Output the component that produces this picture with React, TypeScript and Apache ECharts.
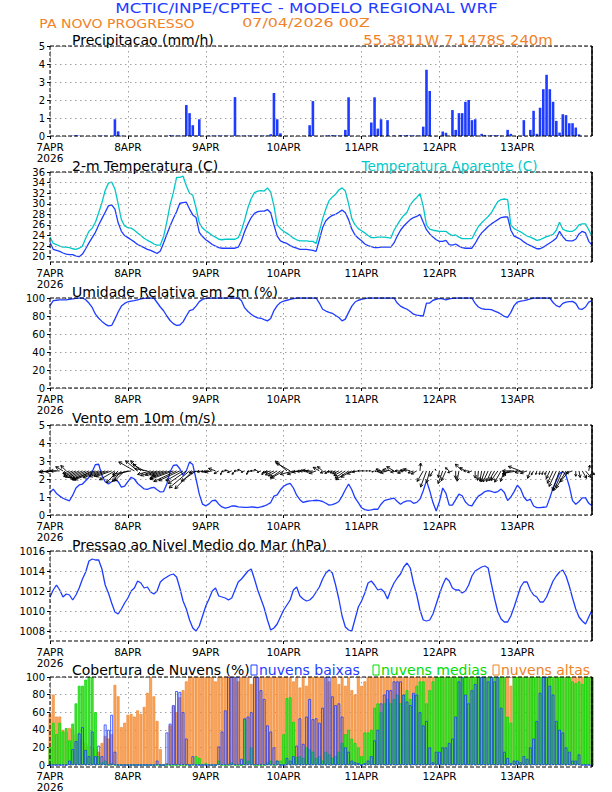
import React, { useEffect, useRef } from "react";
import * as echarts from "echarts";

// ---------------- DATA (hourly, 7APR 00Z .. 13APR 23Z) ----------------
const DAY_LABELS = ["7APR\n2026", "8APR", "9APR", "10APR", "11APR", "12APR", "13APR"];
const HOURS = Array.from({ length: 168 }, (_, i) => i);

const PRECIP = [
  0, 0, 0, 0, 0, 0, 0, 0.02, 0.05, 0.02, 0, 0,
  0, 0, 0, 0.02, 0.02, 0.02, 0, 0, 0.93, 0.26, 0.02, 0,
  0, 0, 0, 0, 0, 0, 0, 0, 0, 0, 0, 0,
  0, 0.05, 0.02, 0.02, 0.02, 0.02, 1.72, 1.27, 0.6, 0.02, 0.93, 0,
  0, 0.02, 0.02, 0.02, 0.02, 0.02, 0.02, 0.02, 0, 2.16, 0.02, 0.02,
  0.02, 0.02, 0.02, 0.02, 0.02, 0.02, 0.02, 0.02, 0.1, 2.39, 0.93, 0.15,
  0, 0, 0, 0, 0, 0, 0, 0, 0.6, 1.94, 0, 0,
  0, 0.03, 0.03, 0.05, 0.03, 0.02, 0.02, 0.34, 2.15, 0, 0, 0,
  0, 0, 0, 0.75, 2.15, 0.41, 0.93, 0, 0.88, 0, 0.03, 0,
  0.05, 0.03, 0.05, 0.03, 0.03, 0.02, 0.03, 0.52, 3.68, 2.5, 0, 0,
  0, 0.25, 0.18, 0, 1.44, 0.34, 1.27, 1.27, 1.9, 2.0, 0.88, 0.93,
  0, 0.12, 0.06, 0.02, 0.04, 0.04, 0.04, 0.02, 0, 0.34, 0.12, 0,
  0, 0, 0.88, 0, 0.34, 1.4, 0.12, 1.57, 2.6, 3.4, 2.6, 1.9,
  0.84, 0.19, 1.21, 1.16, 0.71, 0.71, 0.47, 0.09, 0, 0, 0, 0,
];

const TEMP = [
  22.7, 21.4, 21.2, 21.0, 20.7, 20.5, 20.4, 20.4, 20.1, 20.0, 20.5, 21.5,
  22.6, 23.6, 24.6, 26.0, 27.2, 28.4, 29.6, 29.8, 29.0, 26.4, 24.8, 24.0,
  23.6, 23.2, 22.8, 22.3, 22.0, 21.7, 21.4, 21.2, 20.9, 20.6, 21.1, 22.6,
  24.2, 25.8, 27.2, 28.5, 30.1, 30.2, 30.3, 29.0, 27.9, 27.4, 24.6, 23.8,
  23.2, 22.8, 22.3, 22.0, 21.7, 21.6, 21.6, 21.6, 21.6, 21.6, 21.8, 23.0,
  24.8, 26.2, 27.4, 28.2, 28.5, 28.6, 28.6, 28.9, 28.3, 26.0, 23.9, 23.0,
  22.7, 22.5, 22.1, 21.8, 21.6, 21.4, 21.4, 21.4, 21.3, 21.2, 21.0, 23.2,
  25.5, 26.8, 27.4, 27.8, 28.0, 28.4, 28.8, 28.3, 27.0, 25.2, 24.1, 23.5,
  23.0, 22.4, 22.1, 21.9, 21.7, 21.7, 21.8, 21.8, 21.8, 21.8, 22.6, 23.9,
  25.0, 25.8, 26.4, 27.0, 27.4, 27.6, 28.0, 26.5, 25.1, 24.3, 23.7, 23.2,
  22.9, 22.9, 23.1, 22.3, 22.2, 22.4, 22.0, 21.7, 21.6, 21.6, 21.6, 22.5,
  23.6, 24.5, 25.1, 25.7, 26.2, 26.6, 27.0, 27.4, 27.5, 27.5, 25.0, 23.9,
  23.6, 23.3, 22.8, 22.4, 22.1, 21.8, 21.5, 21.5, 21.8, 22.2, 22.6, 23.0,
  23.5, 24.8, 23.8, 23.1, 23.0, 23.0, 23.3, 24.3, 24.8, 24.5, 22.9, 22.2,
];

const TEMP_APP = [
  23.7, 22.5, 22.3, 22.0, 21.8, 21.8, 21.7, 21.5, 21.4, 21.6, 22.0, 23.5,
  24.8, 25.4, 26.5, 28.3, 30.2, 32.5, 33.9, 34.1, 32.8, 30.0, 27.0, 25.8,
  25.5, 25.4, 25.0, 24.5, 24.0, 23.5, 23.1, 22.8, 22.4, 22.2, 22.2, 23.8,
  26.6, 29.8, 32.1, 35.0, 35.0, 35.2, 33.4, 32.0, 31.6, 29.2, 26.4, 25.4,
  24.9, 24.5, 24.0, 23.7, 23.3, 23.2, 23.3, 23.3, 23.3, 23.3, 23.6, 25.0,
  27.0, 29.3, 31.0, 32.1, 32.4, 32.5, 32.4, 33.0, 32.2, 29.6, 26.0, 25.3,
  24.8, 24.4, 24.0, 23.5, 23.2, 23.0, 23.0, 23.0, 22.9, 22.9, 22.5, 24.8,
  27.2, 29.0, 30.6, 31.3, 31.8, 32.6, 33.0, 32.4, 30.0, 27.2, 26.0, 25.3,
  24.9, 24.5, 24.0, 23.6, 23.6, 23.7, 23.7, 23.7, 23.6, 23.5, 25.0, 26.0,
  27.0, 27.8, 28.4, 29.8, 30.6, 31.2, 31.9, 29.5, 26.0, 25.2, 25.0, 24.9,
  24.8, 24.8, 24.8, 24.3, 24.0, 24.1, 23.7, 23.4, 23.4, 23.4, 23.4, 24.6,
  25.7, 26.4, 27.0, 27.6, 28.3, 29.4, 30.4, 30.8, 30.9, 30.8, 26.0, 25.3,
  25.0, 24.7, 24.3, 23.9, 23.7, 23.4, 23.1, 23.2, 23.5, 23.8, 24.0, 24.2,
  25.0, 26.5, 25.2, 24.9, 24.8, 24.8, 25.2, 26.0, 26.2, 26.2, 25.1, 23.8,
];

const RH = [
  91.4, 97, 97.5, 98, 98, 98, 98.5, 99, 99.5, 100, 100, 98,
  94.4, 89.5, 82, 77.5, 74, 71, 69, 69.5, 76.5, 84.5, 91, 94,
  95.8, 96.5, 97, 98, 99, 99.5, 100, 100, 100, 95, 90, 85.8,
  80, 75, 71.5, 69.5, 70, 73.5, 80, 86, 87, 91, 96, 98.5,
  99.5, 100, 100, 100, 100, 100, 100, 100, 100, 100, 100, 97,
  89, 85, 82, 79.5, 78, 77.5, 76, 74.6, 77.2, 86, 91.5, 95,
  96.5, 97.5, 98.5, 99.3, 100, 100, 100, 100, 100, 100, 100, 94.4,
  87.5, 85.5, 84, 83, 80.5, 78.4, 74.6, 76.5, 84, 91, 95.5, 97.5,
  98.5, 99.3, 100, 100, 100, 100, 100, 100, 100, 100, 100, 94.4,
  91, 89, 87.5, 85, 82, 81, 80.5, 80, 94.4, 94.4, 97.5, 98.5,
  99.6, 99, 98, 99, 99.6, 100, 100, 100, 100, 100, 100, 94,
  90, 88.2, 87.5, 87.3, 87, 85.5, 84, 82, 79.5, 78.4, 84, 91.5,
  95.5, 96.5, 97, 98, 99, 100, 100, 100, 100, 100, 100, 95,
  91.5, 90, 94, 95.5, 96, 96.3, 94, 88, 87.5, 90, 95.5, 97,
];

const WIND_SPD = [
  1.25, 1.44, 1.2, 1.05, 0.93, 0.85, 0.79, 1.1, 1.5, 1.67, 1.72, 1.9,
  2.1, 2.4, 2.8, 2.82, 2.2, 1.85, 1.72, 1.85, 1.98, 1.85, 1.55, 1.6,
  1.85, 2.1, 2.0, 1.75, 1.6, 1.45, 1.42, 1.5, 1.54, 1.4, 1.28, 1.3,
  1.72, 2.4, 2.75, 2.79, 2.57, 2.2, 2.45, 2.95, 2.8, 2.0, 1.16, 0.6,
  0.51, 0.62, 0.8, 0.82, 0.6, 0.45, 0.38, 0.42, 0.5, 0.5, 0.45, 0.44,
  0.42, 0.42, 0.45, 0.43, 0.41, 0.45, 0.5, 0.58, 0.69, 1.05, 1.12, 1.4,
  1.6, 1.7, 1.76, 1.5, 1.1, 0.85, 0.7, 0.75, 0.79, 0.8, 0.82, 0.8,
  0.75, 0.65, 0.55, 0.58, 0.64, 0.75, 1.05, 1.4, 1.72, 1.4, 0.95, 0.69,
  0.4, 0.3, 0.26, 0.28, 0.32, 0.32, 0.6, 0.8, 0.85, 0.9, 0.94, 0.75,
  0.6, 0.72, 0.78, 0.79, 0.65, 0.7, 0.88, 1.35, 1.91, 1.35, 0.69, 0.22,
  0.75, 1.5, 1.2, 0.55, 0.55, 0.85, 1.16, 1.07, 0.72, 0.55, 0.51, 0.8,
  1.05, 1.16, 1.3, 1.35, 1.31, 1.25, 1.3, 1.44, 1.25, 0.8, 1.0, 1.3,
  1.65, 1.45, 1.0, 0.79, 0.88, 0.5, 0.41, 0.41, 0.43, 0.45, 0.95, 1.5,
  1.9, 2.3, 2.42, 2.2, 1.6, 0.8, 0.6, 0.75, 0.95, 0.95, 0.65, 0.51,
];

// direction the wind arrow points to (degrees, counter-clockwise from east)
const WIND_DIR = [
  185, 185, 185, 180, 150, 135, 200, 205, 205, 205, 205, 205,
  205, 205, 200, 200, 200, 200, 200, 200, 210, 225, 230, 225,
  200, 190, 150, 140, 135, 150, 170, 195, 200, 200, 200, 200,
  200, 200, 200, 205, 205, 210, 215, 220, 225, 215, 190, 190,
  190, 190, 190, 160, 210, 250, 190, 170, 200, 230, 180, 160,
  200, 250, 190, 180, 160, 200, 240, 200, 195, 205, 210, 215,
  210, 140, 150, 195, 200, 190, 185, 180, 175, 185, 200, 150,
  140, 200, 210, 190, 200, 205, 210, 215, 215, 210, 200, 190,
  180, 180, 180, 180, 200, 190, 160, 185, 195, 170, 150, 190,
  180, 200, 175, 165, 200, 210, 85, 240, 250, 255, 240, 120,
  260, 250, 245, 140, 200, 270, 260, 135, 150, 180, 200, 270,
  265, 260, 250, 245, 245, 240, 235, 240, 250, 230, 200, 180,
  190, 160, 190, 200, 250, 240, 255, 260, 250, 245, 245, 245,
  245, 250, 245, 240, 230, 200, 270, 280, 300, 310, 80, 300,
];

const PRESSURE = [
  1011.4, 1012.1, 1012.6, 1012.1, 1011.4, 1011.7, 1011.6, 1011.1, 1011.6, 1012.3, 1013.2, 1013.9,
  1015.0, 1015.2, 1015.1, 1015.1, 1014.2, 1012.6, 1011.8, 1010.8, 1009.9, 1009.7, 1010.2, 1010.8,
  1011.3, 1012.0, 1012.3, 1013.0, 1012.8, 1012.3, 1012.4, 1011.9, 1011.7, 1012.0, 1012.9, 1013.2,
  1013.4, 1013.6, 1013.7, 1013.4, 1012.3, 1011.0, 1010.2, 1009.1, 1008.3, 1008.0, 1008.5, 1009.5,
  1010.5, 1011.2, 1012.0, 1012.3, 1011.5, 1011.4, 1011.3, 1011.1, 1011.3, 1012.1, 1012.9, 1013.2,
  1013.6, 1014.0, 1014.2, 1013.2, 1012.1, 1011.2, 1010.3, 1009.1, 1008.1, 1008.3, 1008.7, 1009.4,
  1010.1, 1010.6, 1011.1, 1012.1, 1012.4, 1011.5, 1011.2, 1011.0, 1011.1, 1011.4, 1011.9, 1012.4,
  1013.2, 1013.8, 1014.1, 1013.8, 1012.6, 1011.2, 1009.5, 1008.4, 1008.1, 1008.0, 1009.2, 1010.4,
  1011.0, 1011.8, 1012.8, 1013.0, 1012.6, 1012.1, 1012.2, 1011.9, 1011.2, 1012.1, 1012.8, 1013.3,
  1013.7, 1014.4, 1014.8, 1014.3, 1012.8, 1011.6, 1010.1, 1009.1, 1009.0, 1009.1, 1009.7, 1010.7,
  1011.7, 1012.6, 1013.3, 1013.0, 1012.3, 1012.1, 1012.1, 1011.8, 1012.0, 1012.6, 1013.5, 1014.0,
  1014.2, 1014.4, 1014.5, 1014.3, 1012.7, 1011.2, 1009.9, 1009.2, 1008.9, 1008.9, 1009.5, 1010.4,
  1011.4, 1012.4, 1012.9, 1012.9, 1012.1, 1011.6, 1011.4, 1010.9, 1010.9, 1011.4, 1012.2, 1013.0,
  1013.5, 1013.9, 1014.1, 1013.5, 1012.5, 1011.3, 1010.2, 1009.4, 1009.0, 1008.7, 1009.4, 1010.1,
];

const CLOUD_HIGH = [
  58, 80, 55, 55, 40, 38, 42, 40, 35, 30, 28, 25,
  22, 20, 18, 15, 25, 33, 30, 35, 91, 78, 43, 48,
  57, 58, 55, 62, 58, 66, 82, 100, 78, 50, 18, 0,
  2, 45, 67, 60, 77, 85, 95, 100, 100, 100, 100, 100,
  100, 100, 100, 95, 100, 100, 100, 100, 100, 100, 95, 100,
  100, 100, 92, 100, 100, 100, 100, 100, 100, 100, 100, 100,
  100, 100, 100, 95, 100, 88, 100, 90, 100, 100, 100, 100,
  100, 100, 95, 100, 100, 92, 100, 90, 100, 85, 80, 100,
  90, 95, 100, 100, 100, 100, 100, 100, 100, 100, 100, 100,
  100, 100, 100, 100, 100, 100, 100, 100, 100, 100, 100, 100,
  100, 100, 100, 100, 100, 100, 100, 100, 100, 100, 100, 100,
  100, 100, 100, 100, 100, 100, 100, 100, 100, 100, 90, 100,
  100, 100, 100, 100, 100, 100, 100, 100, 100, 100, 100, 100,
  100, 100, 100, 100, 100, 100, 100, 100, 100, 100, 100, 100,
];

const CLOUD_MID = [
  20, 48, 35, 48, 38, 42, 28, 47, 70, 90, 90, 97,
  100, 100, 60, 10, 3, 5, 0, 2, 0, 0, 0, 0,
  0, 0, 0, 0, 0, 0, 0, 0, 0, 0, 0, 0,
  0, 0, 0, 0, 0, 0, 0, 0, 0, 10, 8, 0,
  2, 0, 0, 0, 5, 0, 0, 0, 3, 0, 0, 0,
  52, 5, 20, 0, 0, 0, 0, 3, 5, 0, 5, 5,
  35, 76, 77, 49, 9, 10, 8, 20, 18, 15, 8, 10,
  5, 15, 12, 8, 10, 15, 25, 35, 40, 30, 25, 20,
  10, 37, 37, 40, 65, 70, 60, 70, 75, 70, 75, 80,
  70, 80, 85, 75, 80, 90, 95, 95, 70, 85, 95, 100,
  100, 100, 100, 100, 100, 100, 100, 100, 100, 100, 100, 100,
  100, 100, 100, 100, 100, 100, 100, 100, 100, 55, 48, 100,
  100, 100, 100, 100, 100, 100, 100, 100, 100, 100, 100, 100,
  100, 100, 100, 100, 100, 95, 93, 95, 92, 100, 100, 100,
];

const CLOUD_LOW = [
  0, 0, 0, 0, 0, 0, 5, 18, 27, 36, 43, 17,
  10, 38, 10, 22, 10, 46, 40, 57, 15, 0, 0, 0,
  0, 0, 0, 0, 0, 0, 0, 0, 0, 5, 0, 0,
  37, 47, 68, 84, 83, 60, 30, 0, 10, 0, 0, 0,
  0, 0, 0, 0, 21, 38, 62, 100, 100, 100, 100, 7,
  53, 55, 60, 100, 100, 85, 75, 45, 38, 20, 5, 0,
  0, 8, 5, 10, 22, 53, 24, 55, 75, 52, 53, 48,
  65, 100, 100, 78, 68, 70, 55, 20, 15, 5, 3, 2,
  0, 2, 5, 10, 28, 40, 70, 80, 85, 85, 95, 95,
  95, 80, 72, 68, 82, 80, 60, 45, 50, 20, 3, 15,
  15, 20, 20, 25, 30, 55, 95, 100, 80, 70, 85, 92,
  100, 100, 100, 95, 100, 95, 100, 65, 15, 8, 2, 5,
  5, 3, 10, 7, 20, 30, 50, 82, 100, 100, 90, 80,
  50, 40, 37, 20, 15, 5, 5, 12, 0, 0, 0, 0,
];

const TEMP_TICKS = [20, 22, 24, 26, 28, 30, 32, 34, 36];
const PRESS_TICKS = [1008, 1010, 1012, 1014, 1016];

// ---------------- STYLE ----------------
const BLUE = "#1e3cff";
const CYAN = "#00c8c8";
const GREEN = "#00dc00";
const ORANGE = "#f08228";
const GRAY = "#a0a0a0";
const FONT = "DejaVu Sans";
const PANEL_TOP = [46, 172, 298, 425, 551, 677];
const PLOT_LEFT = 50;
const PLOT_W = 542;
const PLOT_H = 90;
const ARROW_BASE = 2.45;
const ARROW_PX_PER_MS = 9;
const DOT = [1.5, 3.5];

const pairs = (arr: number[]) => HOURS.map((h, i) => [h, arr[i]]);

function buildOption() {
  const grids = PANEL_TOP.map((t) => ({ left: PLOT_LEFT, top: t, width: PLOT_W, height: PLOT_H, show: false }));

  const xAxes = PANEL_TOP.map((_, i) => ({
    type: "value",
    gridIndex: i,
    min: 0,
    max: 167,
    interval: 24,
    axisLine: { show: false },
    axisTick: { show: true, length: 3, lineStyle: { color: "#000" } },
    axisLabel: {
      color: "#000",
      fontSize: 10.5,
      fontFamily: FONT,
      margin: 5,
      lineHeight: 11,
      showMaxLabel: false,
      formatter: (v: number) => (v % 24 === 0 ? DAY_LABELS[v / 24] : ""),
    },
    splitLine: { show: true, lineStyle: { color: GRAY, type: DOT, width: 1 } },
  }));

  const yBase = (i: number, min: number, max: number, interval: number, split: boolean, extra: any = {}) => ({
    type: "value",
    gridIndex: i,
    min,
    max,
    interval,
    axisLine: { show: false },
    axisTick: { show: true, length: 3, lineStyle: { color: "#000" }, ...(extra.tick || {}) },
    axisLabel: {
      color: "#000",
      fontSize: 10,
      lineHeight: 10,
      fontFamily: FONT,
      margin: 5,
      showMinLabel: true,
      showMaxLabel: true,
      ...(extra.label || {}),
    },
    splitLine: { show: split, lineStyle: { color: GRAY, type: DOT, width: 1 } },
  });

  const evenFmt = (v: number) => (Math.round(v) % 2 === 0 ? String(Math.round(v)) : "");

  const yAxes = [
    yBase(0, 0, 5, 1, true),
    yBase(1, 19, 36, 1, false, {
      label: { customValues: TEMP_TICKS, formatter: evenFmt },
      tick: { customValues: TEMP_TICKS },
    }),
    yBase(2, 0, 100, 20, true),
    yBase(3, 0, 5, 1, true),
    yBase(4, 1007, 1016, 1, false, {
      label: { customValues: PRESS_TICKS, formatter: evenFmt },
      tick: { customValues: PRESS_TICKS },
    }),
    yBase(5, 0, 100, 20, true),
  ];

  const gridLines = (ticks: number[]) => ({
    silent: true,
    symbol: "none",
    animation: false,
    label: { show: false },
    lineStyle: { color: GRAY, type: DOT, width: 1 },
    data: ticks.map((v) => ({ yAxis: v })),
  });

  const line = (i: number, data: number[], color: string, extra: any = {}) => ({
    type: "line",
    xAxisIndex: i,
    yAxisIndex: i,
    data: pairs(data),
    showSymbol: false,
    symbol: "none",
    lineStyle: { color, width: 1.3 },
    itemStyle: { color },
    z: 3,
    ...extra,
  });

  const series: any[] = [
    {
      type: "bar",
      xAxisIndex: 0,
      yAxisIndex: 0,
      data: pairs(PRECIP),
      barWidth: 2.6,
      itemStyle: { color: BLUE },
    },
    line(1, TEMP, BLUE, { markLine: gridLines(TEMP_TICKS) }),
    line(1, TEMP_APP, CYAN),
    line(2, RH, BLUE),
    line(3, WIND_SPD, BLUE),
    {
      type: "custom",
      xAxisIndex: 3,
      yAxisIndex: 3,
      data: HOURS.map((h, i) => [h, WIND_SPD[i], WIND_DIR[i]]),
      encode: { x: 0, y: 1 },
      z: 4,
      renderItem: (params: any, api: any) => {
        const h = api.value(0);
        const spd = api.value(1);
        const dir = api.value(2);
        const p = api.coord([h, ARROW_BASE]);
        const len = spd * ARROW_PX_PER_MS;
        const a = (dir * Math.PI) / 180;
        const x2 = p[0] + Math.cos(a) * len;
        const y2 = p[1] - Math.sin(a) * len;
        const hl = Math.min(3.5, len * 0.45);
        const b1 = a + Math.PI - 0.5;
        const b2 = a + Math.PI + 0.5;
        return {
          type: "group",
          children: [
            { type: "line", shape: { x1: p[0], y1: p[1], x2, y2 }, style: { stroke: "#000", lineWidth: 0.9 } },
            {
              type: "polyline",
              shape: {
                points: [
                  [x2 + Math.cos(b1) * hl, y2 - Math.sin(b1) * hl],
                  [x2, y2],
                  [x2 + Math.cos(b2) * hl, y2 - Math.sin(b2) * hl],
                ],
              },
              style: { stroke: "#000", fill: null, lineWidth: 0.9 },
            },
          ],
        };
      },
    },
    line(4, PRESSURE, BLUE, { markLine: gridLines(PRESS_TICKS) }),
    {
      type: "bar",
      xAxisIndex: 5,
      yAxisIndex: 5,
      data: pairs(CLOUD_HIGH),
      barWidth: 2.8,
      barGap: "-100%",
      itemStyle: { color: "#f7a55c", borderColor: ORANGE, borderWidth: 0.6 },
    },
    {
      type: "bar",
      xAxisIndex: 5,
      yAxisIndex: 5,
      data: pairs(CLOUD_MID),
      barWidth: 2.8,
      barGap: "-100%",
      itemStyle: { color: "#5fd83f", borderColor: GREEN, borderWidth: 0.8 },
    },
    {
      type: "bar",
      xAxisIndex: 5,
      yAxisIndex: 5,
      data: pairs(CLOUD_LOW),
      barWidth: 2.8,
      barGap: "-100%",
      itemStyle: { color: "rgba(0,0,0,0)", borderColor: BLUE, borderWidth: 0.8 },
    },
  ];

  const txt = (s: string, x: number, y: number, color: string, size: number, align = "left", scaleX = 1) => ({
    type: "text",
    x,
    y,
    scaleX,
    z: 100,
    silent: true,
    style: {
      text: s,
      fill: color,
      fontSize: size,
      fontFamily: FONT,
      align,
      textAlign: align,
      verticalAlign: "middle",
      textVerticalAlign: "middle",
    },
  });

  const frames: any[] = [];
  PANEL_TOP.forEach((t) => {
    frames.push({
      type: "rect",
      z: 100,
      silent: true,
      shape: { x: PLOT_LEFT, y: t, width: PLOT_W, height: PLOT_H },
      style: { fill: null, stroke: "#000", lineWidth: 1, lineDash: [4, 2] },
    });
    frames.push({
      type: "line",
      z: 100,
      silent: true,
      shape: { x1: PLOT_LEFT + PLOT_W, y1: t, x2: PLOT_LEFT + PLOT_W, y2: t + PLOT_H },
      style: { stroke: "#000", lineWidth: 1.5 },
    });
  });

  const legendBox = (x: number, color: string) => ({
    type: "rect",
    z: 100,
    silent: true,
    shape: { x, y: 665, width: 6, height: 10 },
    style: { fill: null, stroke: color, lineWidth: 1 },
  });

  const graphics = [
    ...frames,
    txt("MCTIC/INPE/CPTEC - MODELO REGIONAL WRF", 306.5, 8, BLUE, 14, "center", 1.2),
    txt("PA NOVO PROGRESSO", 117, 23, ORANGE, 13, "center", 1.08),
    txt("07/04/2026 00Z", 306, 23, ORANGE, 13, "center", 1.22),
    txt("55.3811W 7.1478S 240m", 458, 40, ORANGE, 14, "center", 1.06),
    txt("Precipitacao (mm/h)", 72, 40, "#000", 14),
    txt("2-m Temperatura (C)", 72, 166, "#000", 14),
    txt("Temperatura Aparente (C)", 449.5, 166, CYAN, 13.5, "center"),
    txt("Umidade Relativa em 2m (%)", 72, 292, "#000", 14),
    txt("Vento em 10m (m/s)", 72, 418, "#000", 14),
    txt("Pressao ao Nivel Medio do Mar (hPa)", 72, 545, "#000", 14),
    txt("Cobertura de Nuvens (%)", 72, 670, "#000", 14),
    legendBox(251, BLUE),
    txt("nuvens baixas", 259, 670, BLUE, 14),
    legendBox(373, GREEN),
    txt("nuvens medias", 381, 670, GREEN, 14),
    legendBox(493, ORANGE),
    txt("nuvens altas", 501, 670, ORANGE, 14),
  ];

  return {
    animation: false,
    backgroundColor: "#fff",
    grid: grids,
    xAxis: xAxes,
    yAxis: yAxes,
    series,
    graphic: { elements: graphics },
  };
}

export default function App() {
  const ref = useRef<HTMLDivElement>(null);
  useEffect(() => {
    if (!ref.current) return;
    const chart = echarts.init(ref.current, null, { renderer: "svg" });
    chart.setOption(buildOption() as any);
    return () => chart.dispose();
  }, []);
  return (
    <div
      ref={ref}
      style={{ position: "fixed", left: 0, top: 0, width: 612, height: 792, background: "#fff" }}
    />
  );
}
